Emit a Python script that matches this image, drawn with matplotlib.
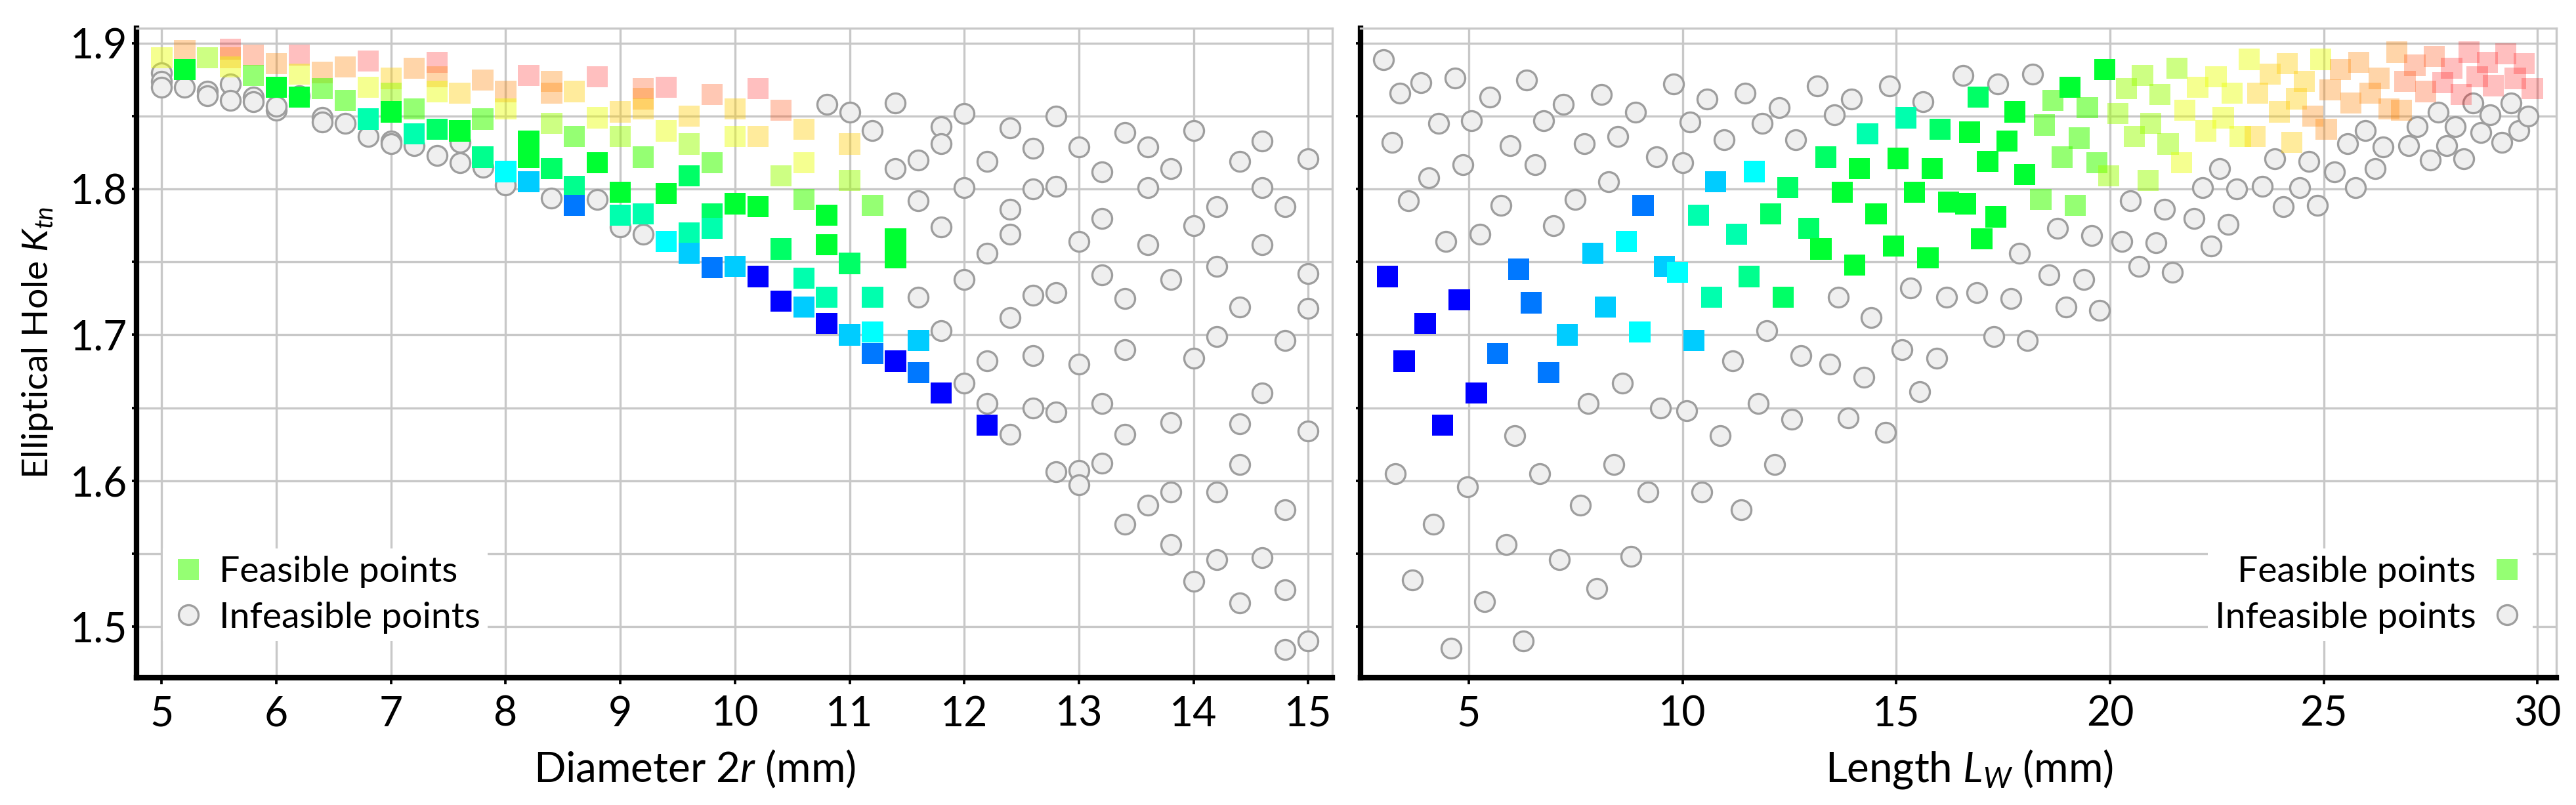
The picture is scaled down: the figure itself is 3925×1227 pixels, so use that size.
import numpy as np
import matplotlib
matplotlib.use('Agg')
import matplotlib.pyplot as plt
from matplotlib.colors import ListedColormap, hsv_to_rgb
from matplotlib.ticker import MultipleLocator
from matplotlib.lines import Line2D

plt.rcParams['font.family'] = ['Lato', 'DejaVu Sans']
plt.rcParams['mathtext.fontset'] = 'custom'
plt.rcParams['mathtext.rm'] = 'Lato'
plt.rcParams['mathtext.it'] = 'Lato:italic'

# colour values of the feasible points (0 = blue ... 1 = red)
B, AZ, DS, CY, AQ, TG, SG, G = 0.0, 0.12, 0.2, 0.25, 0.33, 0.36, 0.40, 0.45
LG, YG, Y, OY, O, PO, P = 0.56, 0.65, 0.73, 0.80, 0.87, 0.93, 1.0

# left panel: diameter 2r (mm), Ktn, colour
diam_feasible = [
    (5.0, 1.890, Y), (5.2, 1.895, O), (5.2, 1.882, G), (5.4, 1.890, YG),
    (5.6, 1.896, P), (5.6, 1.890, O), (5.6, 1.884, Y), (5.8, 1.892, PO),
    (5.8, 1.878, LG), (6.0, 1.886, O), (6.0, 1.870, G), (6.2, 1.892, P),
    (6.2, 1.879, Y), (6.2, 1.863, G), (6.4, 1.880, O), (6.4, 1.869, LG),
    (6.6, 1.884, O), (6.6, 1.861, LG), (6.8, 1.888, P), (6.8, 1.870, Y),
    (6.8, 1.848, AQ), (7.0, 1.876, OY), (7.0, 1.866, YG), (7.0, 1.853, G),
    (7.2, 1.883, O), (7.2, 1.855, LG), (7.2, 1.838, AQ), (7.4, 1.887, P),
    (7.4, 1.877, O), (7.4, 1.867, Y), (7.4, 1.841, SG), (7.6, 1.866, OY),
    (7.6, 1.840, G), (7.8, 1.875, O), (7.8, 1.848, LG), (7.8, 1.822, TG),
    (8.0, 1.867, O), (8.0, 1.855, Y), (8.0, 1.812, CY), (8.2, 1.878, P),
    (8.2, 1.833, G), (8.2, 1.822, G), (8.2, 1.805, DS), (8.4, 1.874, O),
    (8.4, 1.866, O), (8.4, 1.845, YG), (8.4, 1.814, SG), (8.6, 1.867, OY),
    (8.6, 1.836, LG), (8.6, 1.802, TG), (8.6, 1.789, AZ), (8.8, 1.877, P),
    (8.8, 1.849, Y), (8.8, 1.818, G), (9.0, 1.853, OY), (9.0, 1.836, YG),
    (9.0, 1.798, G), (9.0, 1.782, AQ), (9.2, 1.869, PO), (9.2, 1.862, O),
    (9.2, 1.855, OY), (9.2, 1.822, LG), (9.2, 1.783, AQ), (9.4, 1.870, P),
    (9.4, 1.840, Y), (9.4, 1.797, G), (9.4, 1.764, CY), (9.6, 1.850, OY),
    (9.6, 1.831, YG), (9.6, 1.809, SG), (9.6, 1.770, AQ), (9.6, 1.756, DS),
    (9.8, 1.865, PO), (9.8, 1.818, LG), (9.8, 1.783, SG), (9.8, 1.773, AQ),
    (9.8, 1.746, AZ), (10.0, 1.855, OY), (10.0, 1.836, Y), (10.0, 1.790, G),
    (10.0, 1.747, DS), (10.2, 1.869, P), (10.2, 1.836, OY), (10.2, 1.788, G),
    (10.2, 1.740, B), (10.4, 1.854, PO), (10.4, 1.809, YG), (10.4, 1.759, SG),
    (10.4, 1.723, B), (10.6, 1.841, OY), (10.6, 1.818, Y), (10.6, 1.793, LG),
    (10.6, 1.739, AQ), (10.6, 1.719, DS), (10.8, 1.782, G), (10.8, 1.762, G),
    (10.8, 1.726, AQ), (10.8, 1.708, B), (11.0, 1.831, OY), (11.0, 1.806, YG),
    (11.0, 1.749, SG), (11.0, 1.700, DS), (11.2, 1.789, LG), (11.2, 1.726, AQ),
    (11.2, 1.702, CY), (11.2, 1.687, AZ), (11.4, 1.766, G), (11.4, 1.753, G),
    (11.4, 1.682, B), (11.6, 1.696, DS), (11.6, 1.674, AZ), (11.8, 1.660, B),
    (12.2, 1.638, B),
]
diam_infeasible = [
    (5.0, 1.880), (5.0, 1.874), (5.0, 1.870), (5.2, 1.870), (5.4, 1.867),
    (5.4, 1.864), (5.6, 1.872), (5.6, 1.861), (5.8, 1.863), (5.8, 1.860),
    (6.0, 1.854), (6.0, 1.857), (6.2, 1.864), (6.4, 1.849), (6.4, 1.846),
    (6.6, 1.845), (6.8, 1.836), (7.0, 1.833), (7.0, 1.831), (7.2, 1.830),
    (7.4, 1.823), (7.6, 1.818), (7.6, 1.832), (7.8, 1.815), (8.0, 1.803),
    (8.4, 1.794), (8.8, 1.793), (9.0, 1.774), (9.2, 1.769),
    (10.8, 1.858), (11.0, 1.853), (11.4, 1.859), (11.2, 1.840), (11.4, 1.814),
    (11.6, 1.820), (11.8, 1.843), (11.8, 1.831), (12.0, 1.852), (12.0, 1.801),
    (11.6, 1.792), (11.8, 1.774), (12.2, 1.819), (12.2, 1.756), (12.4, 1.842),
    (12.4, 1.786), (12.4, 1.769), (12.4, 1.712), (12.6, 1.828), (12.6, 1.800),
    (12.6, 1.727), (12.8, 1.850), (12.8, 1.802), (12.8, 1.729), (12.0, 1.738),
    (11.6, 1.726), (11.8, 1.703), (12.0, 1.667), (12.2, 1.682), (12.2, 1.653),
    (12.6, 1.686), (12.6, 1.650), (12.8, 1.647), (13.0, 1.829), (13.0, 1.764),
    (13.0, 1.680), (13.2, 1.812), (13.2, 1.780), (13.2, 1.741), (13.2, 1.653),
    (13.4, 1.839), (13.4, 1.725), (13.4, 1.690), (13.6, 1.829), (13.6, 1.801),
    (13.6, 1.762), (13.8, 1.814), (13.8, 1.738), (14.0, 1.840), (14.0, 1.775),
    (14.0, 1.684), (14.2, 1.788), (14.2, 1.747), (14.2, 1.699), (14.4, 1.819),
    (14.4, 1.719), (14.6, 1.660), (14.6, 1.833), (14.6, 1.801), (14.6, 1.762),
    (14.8, 1.788), (14.8, 1.696), (15.0, 1.821), (15.0, 1.742), (15.0, 1.718),
    (12.4, 1.632), (12.8, 1.606), (13.0, 1.607), (13.0, 1.597), (13.2, 1.612),
    (13.4, 1.632), (13.4, 1.570), (13.6, 1.583), (13.8, 1.640), (13.8, 1.592),
    (13.8, 1.556), (14.0, 1.531), (14.2, 1.592), (14.2, 1.546), (14.4, 1.639),
    (14.4, 1.611), (14.4, 1.516), (14.6, 1.547), (14.8, 1.580), (14.8, 1.525),
    (14.8, 1.484), (15.0, 1.634), (15.0, 1.490),
]

# right panel: length Lw (mm), Ktn, colour
length_feasible = [
    (3.10, 1.740, B), (3.49, 1.682, B), (3.98, 1.708, B), (4.39, 1.638, B),
    (4.78, 1.724, B), (5.18, 1.660, B), (5.68, 1.687, AZ), (6.17, 1.745, AZ),
    (6.46, 1.722, AZ), (6.87, 1.674, AZ), (7.31, 1.700, DS), (7.90, 1.756, DS),
    (8.20, 1.719, DS), (8.69, 1.764, CY), (9.00, 1.702, CY), (9.08, 1.789, AZ),
    (9.58, 1.747, DS), (9.89, 1.743, CY), (10.27, 1.696, DS), (10.38, 1.782, AQ),
    (10.68, 1.726, AQ), (10.78, 1.805, DS), (11.27, 1.769, AQ), (11.56, 1.740, TG),
    (11.68, 1.812, CY), (12.07, 1.783, SG), (12.36, 1.726, SG), (12.46, 1.801, SG),
    (12.96, 1.773, SG), (13.24, 1.759, G), (13.35, 1.822, SG), (13.74, 1.798, G),
    (14.03, 1.748, G), (14.14, 1.814, G), (14.33, 1.838, AQ), (14.53, 1.783, G),
    (14.94, 1.761, G), (15.04, 1.821, G), (15.23, 1.849, AQ), (15.43, 1.798, G),
    (15.74, 1.753, G), (15.84, 1.814, G), (16.03, 1.841, SG), (16.23, 1.791, G),
    (16.62, 1.790, G), (16.72, 1.839, G), (16.92, 1.863, SG), (17.00, 1.766, G),
    (17.14, 1.819, G), (17.33, 1.781, G), (17.78, 1.853, G), (17.59, 1.833, G),
    (18.00, 1.810, G), (18.38, 1.793, LG), (18.47, 1.844, LG), (18.67, 1.861, LG),
    (19.07, 1.870, G), (19.28, 1.835, LG), (18.88, 1.822, LG), (19.19, 1.789, LG),
    (19.47, 1.856, LG), (19.69, 1.818, LG), (19.88, 1.882, G), (19.97, 1.809, YG),
    (20.19, 1.852, YG), (20.38, 1.869, YG), (20.57, 1.836, YG), (20.76, 1.878, YG),
    (20.95, 1.845, YG), (20.89, 1.806, YG), (21.17, 1.865, YG), (21.36, 1.831, YG),
    (21.57, 1.883, YG), (21.67, 1.818, Y), (21.75, 1.854, Y), (22.05, 1.870, Y),
    (22.24, 1.840, Y), (22.48, 1.877, Y), (22.65, 1.849, Y), (22.86, 1.866, Y),
    (23.05, 1.836, Y), (23.26, 1.889, Y), (23.39, 1.836, OY), (23.46, 1.866, OY),
    (23.75, 1.879, OY), (23.96, 1.853, OY), (24.15, 1.886, OY), (24.25, 1.832, OY),
    (24.36, 1.862, OY), (24.55, 1.874, OY), (24.74, 1.850, O), (24.93, 1.889, Y),
    (25.06, 1.841, O), (25.15, 1.868, O), (25.39, 1.882, O), (25.63, 1.859, O),
    (25.82, 1.887, O), (26.09, 1.866, O), (26.30, 1.876, O), (26.52, 1.855, O),
    (26.71, 1.894, O), (26.82, 1.854, O), (26.90, 1.874, PO), (27.13, 1.885, PO),
    (27.38, 1.867, PO), (27.59, 1.891, PO), (27.78, 1.873, P), (27.99, 1.883, P),
    (28.21, 1.865, P), (28.40, 1.894, P), (28.59, 1.877, P), (28.83, 1.887, P),
    (28.97, 1.871, P), (29.26, 1.893, P), (29.48, 1.876, P), (29.69, 1.886, P),
    (29.88, 1.869, P),
]
length_infeasible = [
    (3.00, 1.889), (3.39, 1.866), (3.88, 1.873), (4.68, 1.876), (5.49, 1.863),
    (6.36, 1.875), (7.21, 1.858), (8.10, 1.865), (8.90, 1.853), (9.79, 1.872),
    (10.58, 1.862), (11.46, 1.866), (12.26, 1.856), (13.16, 1.871), (13.95, 1.862),
    (14.84, 1.871), (15.62, 1.860), (3.20, 1.832), (4.29, 1.845), (5.07, 1.847),
    (6.75, 1.847), (5.97, 1.830), (7.70, 1.831), (8.49, 1.836), (10.17, 1.846),
    (10.97, 1.834), (11.87, 1.845), (12.65, 1.834), (13.55, 1.851), (4.87, 1.817),
    (6.56, 1.817), (9.39, 1.822), (10.00, 1.818), (4.07, 1.808), (8.28, 1.805),
    (3.59, 1.792), (5.76, 1.789), (7.49, 1.793), (4.46, 1.764), (5.26, 1.769),
    (6.99, 1.775), (13.65, 1.726), (14.42, 1.712), (15.33, 1.732), (11.97, 1.703),
    (11.17, 1.682), (12.77, 1.686), (13.45, 1.680), (15.14, 1.690), (15.95, 1.684),
    (14.24, 1.671), (15.55, 1.661), (8.59, 1.667), (7.80, 1.653), (9.48, 1.650),
    (10.10, 1.648), (11.77, 1.653), (12.55, 1.642), (13.87, 1.643), (14.75, 1.633),
    (6.07, 1.631), (10.88, 1.631), (3.29, 1.605), (4.97, 1.596), (6.66, 1.605),
    (8.39, 1.611), (12.16, 1.611), (7.61, 1.583), (9.19, 1.592), (10.46, 1.592),
    (11.37, 1.580), (4.17, 1.570), (5.88, 1.556), (7.12, 1.546), (8.80, 1.548),
    (3.68, 1.532), (8.00, 1.526), (5.37, 1.517), (4.59, 1.485), (6.27, 1.490),
    (16.56, 1.878), (17.38, 1.872), (18.19, 1.879), (17.88, 1.756), (18.78, 1.773),
    (19.57, 1.768), (18.57, 1.741), (19.38, 1.738), (18.98, 1.719), (19.76, 1.717),
    (16.18, 1.726), (16.88, 1.729), (17.68, 1.725), (17.28, 1.699), (18.06, 1.696),
    (20.48, 1.792), (21.27, 1.786), (20.27, 1.764), (21.07, 1.763), (20.67, 1.747),
    (21.46, 1.743), (21.96, 1.780), (22.36, 1.761), (22.77, 1.776), (22.17, 1.801),
    (22.57, 1.814), (22.96, 1.800), (23.56, 1.802), (24.06, 1.788), (23.86, 1.821),
    (24.44, 1.801), (24.65, 1.819), (24.85, 1.789), (25.25, 1.812), (25.56, 1.831),
    (25.75, 1.801), (25.98, 1.840), (26.20, 1.814), (26.39, 1.829), (26.99, 1.830),
    (27.19, 1.843), (27.49, 1.820), (27.68, 1.853), (27.87, 1.830), (28.08, 1.843),
    (28.27, 1.821), (28.49, 1.859), (28.68, 1.839), (28.89, 1.851), (29.16, 1.832),
    (29.38, 1.859), (29.57, 1.840), (29.78, 1.850),
]

GRID = '#c8c8c8'
FS = 15


def make_cmap():
    # hue runs blue -> red, the upper (red) end gets paler
    t = np.linspace(0, 1, 256)
    hsv = np.column_stack([240 * (1 - t) / 360, np.ones_like(t), np.ones_like(t)])
    rgb = hsv_to_rgb(hsv)
    alpha = np.interp(t, [0, 0.47, 0.56, 1.0], [1, 1, 0.55, 0.25])
    return ListedColormap(np.column_stack([rgb, alpha]))


cmap = make_cmap()


def draw_panel(ax, feasible, infeasible, xlim, xstep):
    xi, yi = zip(*infeasible)
    ax.scatter(xi, yi, marker='o', s=52, facecolor='#efefef', edgecolor='#9e9e9e',
               linewidths=0.8, zorder=2)
    xf, yf, cf = zip(*feasible)
    ax.scatter(xf, yf, c=cf, cmap=cmap, vmin=0, vmax=1, marker='s', s=60,
               linewidths=0, zorder=3)

    ax.set_xlim(*xlim)
    ax.set_ylim(1.4648, 1.9104)
    ax.xaxis.set_major_locator(MultipleLocator(xstep))
    ax.yaxis.set_major_locator(MultipleLocator(0.1))
    ax.yaxis.set_minor_locator(MultipleLocator(0.05))
    ax.grid(True, which='both', axis='y', color=GRID, lw=0.8)
    ax.grid(True, which='major', axis='x', color=GRID, lw=0.8)
    ax.set_axisbelow(True)
    for s in ['left', 'bottom']:
        ax.spines[s].set_linewidth(2.0)
        ax.spines[s].set_color('black')
    for s in ['top', 'right']:
        ax.spines[s].set_linewidth(0.8)
        ax.spines[s].set_color(GRID)
    ax.tick_params(axis='x', which='major', direction='out', length=2.4, width=0.9,
                   labelsize=FS, pad=4)
    ax.tick_params(axis='y', which='both', direction='out', length=1.6, width=0.9,
                   labelsize=FS, pad=1.6)


W, H = 3925, 1227
fig = plt.figure(figsize=(W / 300, H / 300), dpi=300)
bottom = 1 - 1033 / H
height = (1033 - 43) / H
ax1 = fig.add_axes([208 / W, bottom, (2030 - 208) / W, height])
ax2 = fig.add_axes([2073 / W, bottom, (3895 - 2073) / W, height])

draw_panel(ax1, diam_feasible, diam_infeasible, (4.78, 15.21), 1)
draw_panel(ax2, length_feasible, length_infeasible, (2.47, 30.44), 5)
ax2.tick_params(axis='y', which='both', labelleft=False)

ax1.set_xlabel('Diameter 2$r$ (mm)', fontsize=15.3)
ax1.xaxis.set_label_coords(0.4665, -0.108)
ax2.set_xlabel('Length $L_W$ (mm)', fontsize=15.3)
ax2.xaxis.set_label_coords(0.509, -0.108)
ax1.set_ylabel('Elliptical Hole $K_{tn}$', fontsize=13.3)
ax1.yaxis.set_label_coords(-0.068, 0.516)

h_feas = Line2D([], [], ls='none', marker='s', ms=7.7, mfc=cmap(0.56), mec='none')
h_inf = Line2D([], [], ls='none', marker='o', ms=7.2, mfc='#efefef', mec='#9e9e9e', mew=0.8)
labels = ['Feasible points', 'Infeasible points']
common = dict(frameon=True, fancybox=False, edgecolor='none', facecolor='white',
              framealpha=1, fontsize=13.3, handlelength=1.0, handletextpad=0.35,
              labelspacing=0.37, borderpad=0.2, borderaxespad=0)
ax1.legend([h_feas, h_inf], labels, loc='center left', bbox_to_anchor=(0.022, 0.128), **common)
ax2.legend([h_feas, h_inf], labels, loc='center right', bbox_to_anchor=(0.98, 0.128),
           markerfirst=False, **common)

fig.savefig('out.png', dpi=300)
